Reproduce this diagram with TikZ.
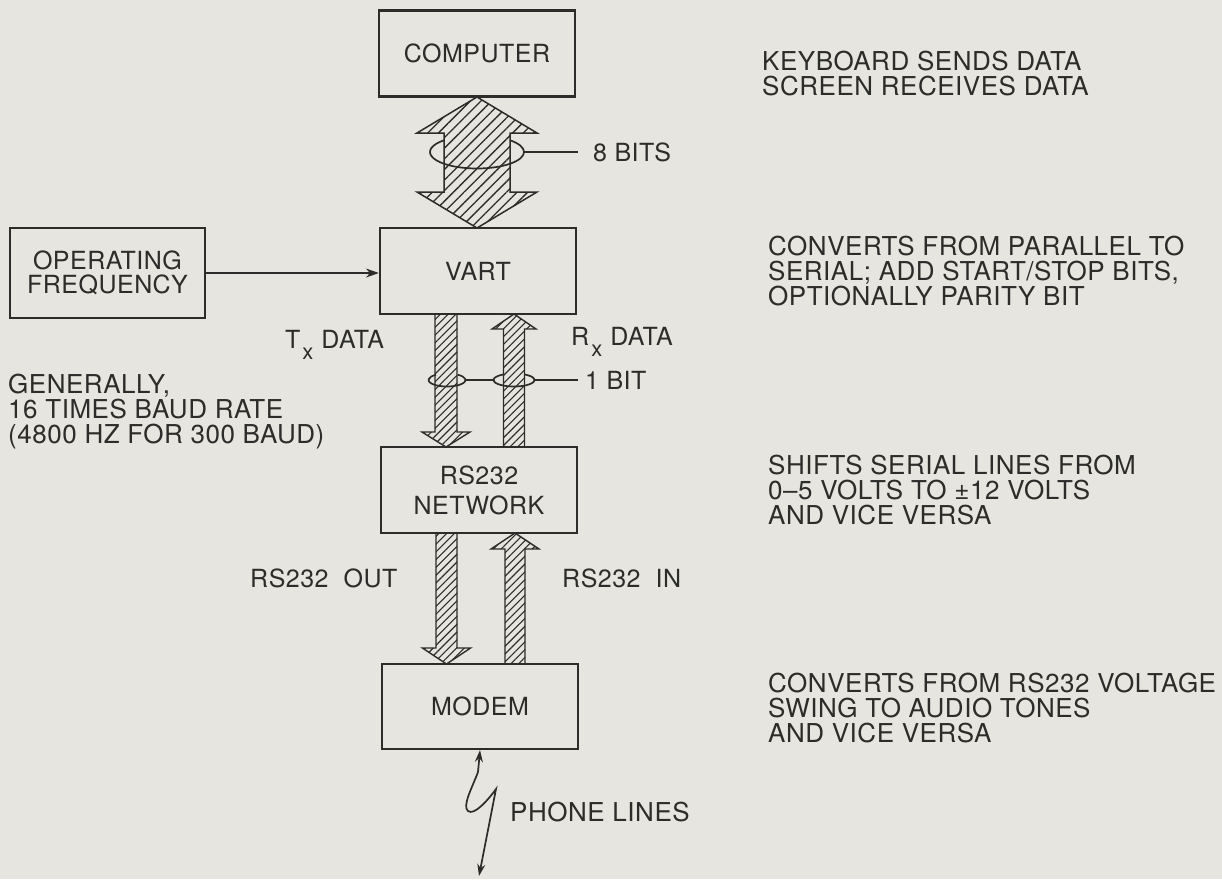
\documentclass[tikz,border=0pt]{standalone}
\usepackage{fontspec}
\setmainfont{TeX Gyre Heros}[LetterSpace=2]
\usetikzlibrary{patterns.meta,arrows.meta}
\definecolor{ink}{RGB}{44,44,42}
\definecolor{paper}{RGB}{230,229,223}
\newcommand\boxfnt{\fontsize{25}{30}\selectfont}
\newcommand\notefnt{\fontsize{26}{25}\selectfont}
\newcommand\busring[5]{\draw[ringline] (#1,#2) ++(-#5:#3 and #4) arc[start angle=-#5,end angle={180+#5},x radius=#3,y radius=#4];}
\begin{document}
\begin{tikzpicture}[x=1pt,y=-1pt,
 blk/.style={draw=ink,line width=2.2pt,minimum width=196pt,minimum height=86pt,inner sep=0pt,font=\boxfnt,text=ink,align=center},
 note/.style={font=\notefnt,text=ink,align=left,anchor=west,inner sep=0pt},
 lbl/.style={font=\boxfnt,text=ink,anchor=west,inner sep=0pt},
 busbig/.style={draw=ink,line width=1.5pt,line join=miter,pattern={Lines[angle=45,distance=7.5pt,line width=1.3pt]},pattern color=ink},
 bussmall/.style={draw=ink,line width=1.4pt,line join=miter,pattern={Lines[angle=45,distance=5.5pt,line width=1.1pt]},pattern color=ink},
 ringline/.style={draw=ink,line width=1.7pt},
 wire/.style={draw=ink,line width=1.7pt},
 arrowend/.style={-{Stealth[length=13pt,width=9pt]}},
 twoends/.style={{Stealth[length=12pt,width=8pt]}-{Stealth[length=12pt,width=8pt]}}
]
\fill[paper] (0,0) rectangle (1222,879);
\useasboundingbox (0,0) rectangle (1222,879);

% boxes
\node[blk] (computer) at (477,53.5) {COMPUTER};
\node[blk] (vart) at (478,271) {VART};
\node[blk] (rs) at (479,490) {RS232\\NETWORK};
\node[blk,minimum height=85pt] (modem) at (480,706.5) {MODEM};
\node[blk,minimum width=195pt,minimum height=90pt,font=\fontsize{25}{24}\selectfont] (opf) at (107.5,273) {OPERATING\\FREQUENCY};

% 8-bit bus
\draw[busbig] (477,97) -- (537,133) -- (510,133) -- (510,192) -- (537,192) -- (477,228) -- (417,192) -- (444,192) -- (444,133) -- (417,133) -- cycle;
\busring{477}{152}{47}{16.5}{45.4}
\draw[ringline] (524,152) -- (578,152);
\node[lbl] (eight) at (593,152) {8 BITS};

% serial lines VART <-> RS232
\draw[bussmall] (435,314) -- (457,314) -- (457,432) -- (470,432) -- (446,447) -- (422,432) -- (435,432) -- cycle;
\draw[bussmall] (514,314) -- (536,329) -- (524.5,329) -- (524.5,447) -- (503.5,447) -- (503.5,329) -- (492,329) -- cycle;
\busring{447}{380}{18.5}{6.5}{53.5}
\busring{514}{380}{20.5}{6.5}{59.2}
\draw[ringline] (465.5,380) -- (493.5,380);
\draw[ringline] (534.5,380) -- (578,380);
\node[lbl] (onebit) at (585,380) {1 BIT};
\node[lbl,anchor=base west] (tx) at (285,348) {T\hspace{2pt}\raisebox{-11pt}{\fontsize{22}{22}\selectfont x}\hspace{8pt}DATA};
\node[lbl,anchor=base west] (rx) at (571,345) {R\hspace{2pt}\raisebox{-11pt}{\fontsize{22}{22}\selectfont x}\hspace{8pt}DATA};

% RS232 lines
\draw[bussmall] (436,533) -- (457,533) -- (457,648) -- (470.5,648) -- (446.5,664) -- (422.5,648) -- (436,648) -- cycle;
\draw[bussmall] (515,533) -- (539,549) -- (525,549) -- (525,664) -- (505,664) -- (505,549) -- (491,549) -- cycle;
\node[lbl] (rsout) at (250,578) {RS232\hspace{0.6em}OUT};
\node[lbl] (rsin) at (562,578) {RS232\hspace{0.6em}IN};

% operating frequency
\draw[wire,arrowend] (opf.east) -- (opf.east -| vart.west);
\node[note] (gen) at (8,412) {GENERALLY,\\16 TIMES BAUD RATE\\(4800 HZ FOR 300 BAUD)};

% phone lines
\draw[wire,twoends] (modem.south) -- (478,772) .. controls (472,788) and (462,806) .. (468,811) .. controls (474,816) and (488,800) .. (496,789) -- (479,876);
\node[lbl,font=\notefnt] (phone) at (510,812) {PHONE LINES};

% notes
\node[note] (n1) at (762,74) {KEYBOARD SENDS DATA\\SCREEN RECEIVES DATA};
\node[note] (n2) at (768,271) {CONVERTS FROM PARALLEL TO\\SERIAL; ADD START/STOP BITS,\\OPTIONALLY PARITY BIT};
\node[note] (n3) at (768,490) {SHIFTS SERIAL LINES FROM\\0–5 VOLTS TO ±12 VOLTS\\AND VICE VERSA};
\node[note] (n4) at (768,708) {CONVERTS FROM RS232 VOLTAGE\\SWING TO AUDIO TONES\\AND VICE VERSA};
\end{tikzpicture}
\end{document}
